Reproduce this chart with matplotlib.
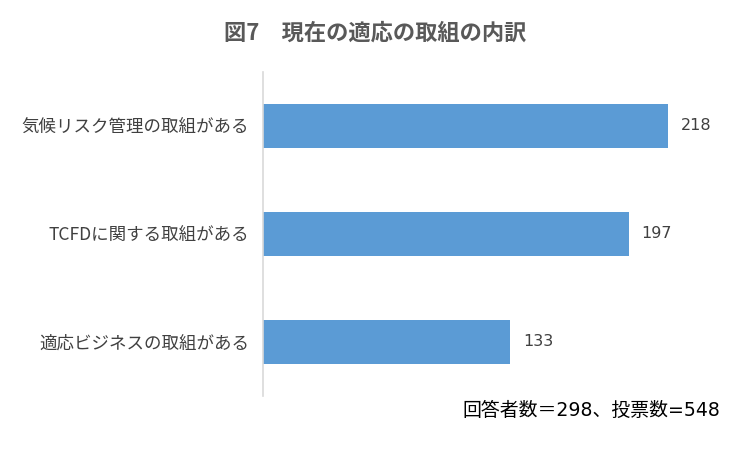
import matplotlib.pyplot as plt

plt.rcParams['font.family'] = ['Noto Sans CJK JP', 'DejaVu Sans']

categories = ["気候リスク管理の取組がある", "TCFDに関する取組がある", "適応ビジネスの取組がある"]
values = [218, 197, 133]
title = "図7　現在の適応の取組の内訳"
note = "回答者数＝298、投票数=548"

fig = plt.figure(figsize=(7.5, 4.5), dpi=100)
ax = fig.add_axes([263/750, 1 - 396/450, 477/750, 324/450])

ypos = list(range(len(categories)))
ax.barh(ypos, values, height=0.4, color="#5B9BD5")
ax.set_ylim(len(categories) - 0.5, -0.5)
ax.set_xlim(0, 257)

for y, v in zip(ypos, values):
    ax.text(v + 7, y, str(v), va="center", ha="left", fontsize=11.5,
            color="#404040", family=["DejaVu Sans", "Noto Sans CJK JP"])

ax.set_yticks(ypos)
ax.set_yticklabels(categories, fontsize=12.6, color="#404040")
ax.tick_params(axis="y", length=0, pad=10)
ax.set_xticks([])
for s in ["top", "right", "bottom"]:
    ax.spines[s].set_visible(False)
ax.spines["left"].set_color("#D9D9D9")
ax.spines["left"].set_linewidth(1.2)

fig.text(375/750, 1 - 33/450, title, ha="center", va="center",
         fontsize=16, fontweight="bold", color="#595959")
fig.text(720/750, 1 - 410/450, note, ha="right", va="center",
         fontsize=13.6, color="#000000", family=["DejaVu Sans", "Noto Sans CJK JP"])

fig.savefig("out.png", dpi=100)
